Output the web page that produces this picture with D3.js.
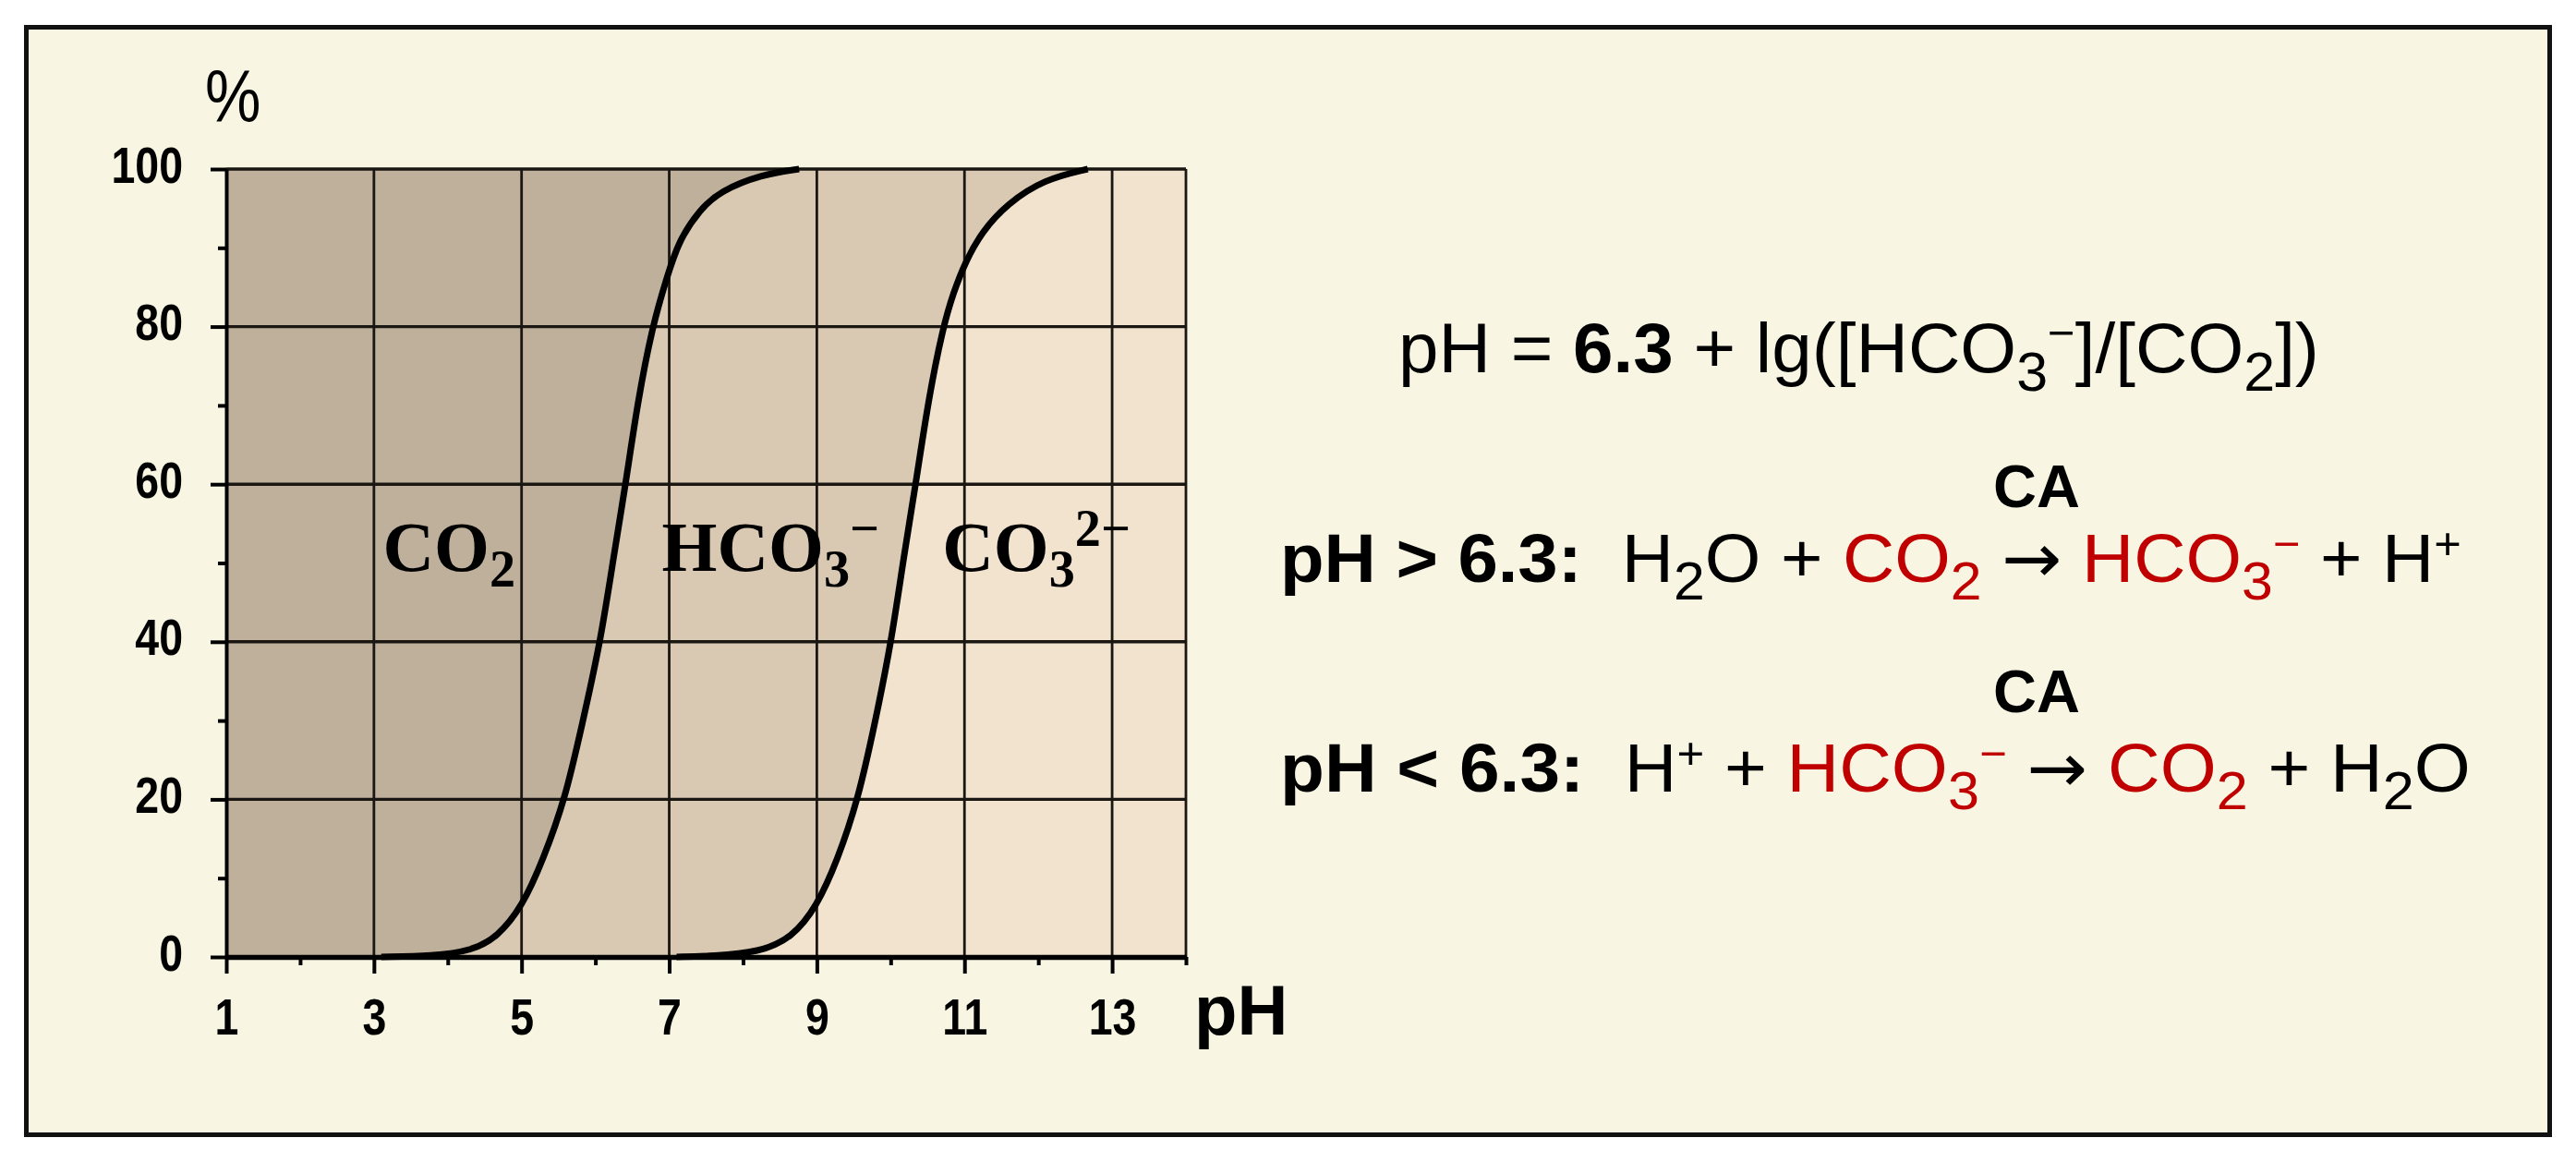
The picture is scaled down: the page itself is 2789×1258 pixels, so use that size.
<!DOCTYPE html>
<html>
<head>
<meta charset="utf-8">
<script src="https://cdn.jsdelivr.net/npm/d3@7"></script>
<style>
  body { margin: 0; background: #fff; }
  svg text { font-family: "Liberation Sans", Arial, sans-serif; white-space: pre; }
</style>
</head>
<body>
<script>
//page + plot box
const W = 2789, H = 1258;
const plot = { left: 245, right: 1284, top: 183, bottom: 1036 };

//boundary curves (pH, %)
const boundary1Ph = [3.1, 3.8, 4.33, 4.67, 5.01, 5.29, 5.59, 5.82, 6.07, 6.25, 6.41, 6.57, 6.77, 6.97, 7.13, 7.41, 7.69, 8.25, 8.76];
const boundary1Pct = [0, 0.1, 0.8, 2.5, 6.4, 12.3, 20, 29.5, 40, 51, 60, 70.3, 80, 86.3, 90.9, 94.8, 97.2, 99.3, 100];
const boundary2Ph = [7.1, 7.6, 8.22, 8.66, 9.0, 9.28, 9.56, 9.79, 10.01, 10.18, 10.34, 10.51, 10.71, 10.85, 11.01, 11.24, 11.58, 12.08, 12.67];
const boundary2Pct = [0, 0.1, 0.6, 2.4, 6.4, 12.3, 20, 29.8, 40, 51, 60, 70.7, 80, 84.3, 88.2, 92.1, 95.6, 98.7, 100];

//axes
const xDomain = [1, 14];
const yDomain = [0, 100];
const xTicks = [1, 3, 5, 7, 9, 11, 13];
const xMinor = [2, 4, 6, 8, 10, 12, 14];
const yTicks = [0, 20, 40, 60, 80, 100];
const yMinor = [10, 30, 50, 70, 90];
const xGrid = [3, 5, 7, 9, 11, 13, 14];
const yGrid = [20, 40, 60, 80, 100];

//species names inside the plot (pH where the word starts, % of baseline)
const speciesPh = [3.12, 6.9, 10.7];
const speciesPct = [49, 49, 49];
const speciesText = [
  [{ t: "CO" }, { t: "2", s: "sub" }],
  [{ t: "HCO" }, { t: "3", s: "sub" }, { t: "\u2212", s: "sup" }],
  [{ t: "CO" }, { t: "3", s: "sub" }, { t: "2\u2212", s: "sup" }],
];

//equations on the right
const formulaSegs = [
  { t: "pH = " }, { t: "6.3", b: 1 }, { t: " + lg([HCO" }, { t: "3", s: "sub" },
  { t: "\u2212", s: "sup" }, { t: "]/[CO" }, { t: "2", s: "sub" }, { t: "])" },
];
const line2Segs = [
  { t: "pH > 6.3:", b: 1 }, { t: "  H" }, { t: "2", s: "sub" }, { t: "O + " },
  { t: "CO", r: 1 }, { t: "2", s: "sub", r: 1 }, { t: " " }, { t: "\u2192", f: 1 }, { t: " " },
  { t: "HCO", r: 1 }, { t: "3", s: "sub", r: 1 }, { t: "\u2212", s: "sup", r: 1 },
  { t: " + H" }, { t: "+", s: "sup" },
];
const line3Segs = [
  { t: "pH < 6.3:", b: 1 }, { t: "  H" }, { t: "+", s: "sup" }, { t: " + " },
  { t: "HCO", r: 1 }, { t: "3", s: "sub", r: 1 }, { t: "\u2212", s: "sup", r: 1 },
  { t: " " }, { t: "\u2192", f: 1 }, { t: " " }, { t: "CO", r: 1 }, { t: "2", s: "sub", r: 1 },
  { t: " + H" }, { t: "2", s: "sub" }, { t: "O" },
];

const colors = {
  page: "#f8f6e3",
  dark: "#bfb09c",
  mid: "#d9c9b2",
  light: "#f1e3ce",
  red: "#c00000",
};

//set up svg
const svg = d3
  .select("body")
  .append("svg")
  .attr("width", W)
  .attr("height", H);

svg
  .append("rect")
  .attr("x", 28.5)
  .attr("y", 29.5)
  .attr("width", 2732)
  .attr("height", 1199)
  .attr("fill", colors.page)
  .attr("stroke", "#111")
  .attr("stroke-width", 5);

//scales
const x = d3.scaleLinear().domain(xDomain).range([plot.left, plot.right]);
const y = d3.scaleLinear().domain(yDomain).range([plot.bottom, plot.top]);

const b1 = boundary1Ph.map((p, i) => ({ ph: p, pct: boundary1Pct[i] }));
const b2 = boundary2Ph.map((p, i) => ({ ph: p, pct: boundary2Pct[i] }));

const chart = svg.append("g");

//background of the plot: CO3 zone
chart
  .append("rect")
  .attr("x", x(xDomain[0]))
  .attr("y", y(yDomain[1]))
  .attr("width", x(xDomain[1]) - x(xDomain[0]))
  .attr("height", y(yDomain[0]) - y(yDomain[1]))
  .attr("fill", colors.light);

//zones above each boundary
const zone = d3
  .area()
  .x((d) => x(d.ph))
  .y0(y(yDomain[1]))
  .y1((d) => y(d.pct))
  .curve(d3.curveBasis);

chart
  .append("path")
  .datum([{ ph: xDomain[0], pct: 0 }, { ph: xDomain[0], pct: 0 }].concat(b2))
  .attr("d", zone)
  .attr("fill", colors.mid);

chart
  .append("path")
  .datum([{ ph: xDomain[0], pct: 0 }, { ph: xDomain[0], pct: 0 }].concat(b1))
  .attr("d", zone)
  .attr("fill", colors.dark);

//grid
chart
  .selectAll(".hgrid")
  .data(yGrid)
  .enter()
  .append("line")
  .attr("class", "hgrid")
  .attr("x1", x(xDomain[0]))
  .attr("x2", x(xDomain[1]))
  .attr("y1", (d) => y(d))
  .attr("y2", (d) => y(d))
  .attr("stroke", "#1a1612")
  .attr("stroke-width", 3.4);

chart
  .selectAll(".vgrid")
  .data(xGrid)
  .enter()
  .append("line")
  .attr("class", "vgrid")
  .attr("x1", (d) => x(d))
  .attr("x2", (d) => x(d))
  .attr("y1", y(yDomain[0]))
  .attr("y2", y(yDomain[1]))
  .attr("stroke", "#1a1612")
  .attr("stroke-width", 2.8);

//text with sub/superscripts
function richText(sel, segs, o) {
  let shift = 0;
  segs.forEach((s) => {
    const target = s.s === "sub" ? o.sub : s.s === "sup" ? o.sup : 0;
    const ts = sel.append("tspan").text(s.t);
    if (target !== shift) ts.attr("dy", (target - shift) * o.size);
    if (s.s) ts.style("font-size", o.size * (s.s === "sub" ? o.subSize : o.supSize) + "px");
    if (s.b) ts.style("font-weight", "bold");
    if (s.r) ts.attr("fill", colors.red);
    if (s.f) ts.style("font-family", '"DejaVu Sans", sans-serif');
    shift = target;
  });
  return sel;
}

//narrow a text to a share of its natural width
function squeeze(sel, k) {
  sel.each(function () {
    const w = this.getComputedTextLength();
    d3.select(this).attr("textLength", w * k).attr("lengthAdjust", "spacingAndGlyphs");
  });
}

//species names
speciesText.forEach((segs, i) => {
  const t = chart
    .append("text")
    .attr("x", x(speciesPh[i]))
    .attr("y", y(speciesPct[i]))
    .style("font-family", '"Liberation Serif", "Times New Roman", serif')
    .style("font-weight", "bold")
    .style("font-size", "77px");
  richText(t, segs, { size: 77, sub: 0.22, sup: -0.35, subSize: 0.73, supSize: 0.73 });
});

//curves
const boundary = d3
  .line()
  .x((d) => x(d.ph))
  .y((d) => y(d.pct))
  .curve(d3.curveBasis);

[b1, b2].forEach((pts) => {
  chart
    .append("path")
    .datum(pts)
    .attr("d", boundary)
    .attr("fill", "none")
    .attr("stroke", "#000")
    .attr("stroke-width", 7);
});

//axes
const yAxis = chart
  .append("g")
  .attr("transform", `translate(${plot.left},0)`)
  .call(
    d3.axisLeft(y).tickValues(yTicks).tickSize(17).tickSizeOuter(0).tickPadding(30).tickFormat(d3.format("d"))
  );
const yAxisMinor = chart
  .append("g")
  .attr("transform", `translate(${plot.left},0)`)
  .call(d3.axisLeft(y).tickValues(yMinor).tickSize(9).tickSizeOuter(0).tickFormat(""));

const xAxis = chart
  .append("g")
  .attr("transform", `translate(0,${plot.bottom})`)
  .call(
    d3.axisBottom(x).tickValues(xTicks).tickSize(18).tickSizeOuter(0).tickPadding(26).tickFormat(d3.format("d"))
  );
const xAxisMinor = chart
  .append("g")
  .attr("transform", `translate(0,${plot.bottom})`)
  .call(d3.axisBottom(x).tickValues(xMinor).tickSize(9).tickSizeOuter(0).tickFormat(""));

[yAxis, yAxisMinor, xAxis, xAxisMinor].forEach((g) => {
  g.selectAll(".tick line").attr("stroke", "#000").attr("stroke-width", 4);
  g.selectAll("text")
    .attr("fill", "#000")
    .style("font-family", '"Liberation Sans", Arial, sans-serif')
    .style("font-weight", "bold")
    .style("font-size", "56px");
});
yAxis.select(".domain").attr("stroke", "#000").attr("stroke-width", 4);
yAxisMinor.select(".domain").remove();
xAxis.select(".domain").attr("stroke", "#000").attr("stroke-width", 5.5);
xAxisMinor.select(".domain").remove();
yAxis.selectAll("text").attr("dy", "0.25em");
//the figure uses a condensed face for tick labels
squeeze(yAxis.selectAll("text"), 0.83);
squeeze(xAxis.selectAll("text"), 0.83);

//axis titles
chart
  .append("text")
  .attr("x", 222)
  .attr("y", 132)
  .style("font-size", "80px")
  .text("%")
  .call(squeeze, 0.85);

chart
  .append("text")
  .attr("x", plot.right + 9)
  .attr("y", 1120)
  .style("font-size", "76px")
  .style("font-weight", "bold")
  .text("pH");

//equations, each fitted to the width it takes in the figure
const eqOpts = { sub: 0.26, sup: -0.34, subSize: 0.78, supSize: 0.65 };
const eqLines = [
  { segs: formulaSegs, x0: 1514, x1: 2511, base: 403, size: 76 },
  { segs: line2Segs, x0: 1386, x1: 2665, base: 630, size: 74 },
  { segs: line3Segs, x0: 1386, x1: 2675, base: 857, size: 74 },
];

eqLines.forEach((l) => {
  const g = svg.append("g");
  const t = g.append("text").attr("x", 0).attr("y", 0).style("font-size", l.size + "px");
  richText(t, l.segs, Object.assign({}, eqOpts, { size: l.size }));
  const bb = t.node().getBBox();
  const k = (l.x1 - l.x0) / bb.width;
  g.attr("transform", `translate(${l.x0 - bb.x * k},${l.base}) scale(${k},1)`);
});

//enzyme over the arrows
[549, 771].forEach((b) => {
  svg
    .append("text")
    .attr("x", 2205)
    .attr("y", b)
    .attr("text-anchor", "middle")
    .style("font-size", "65px")
    .style("font-weight", "bold")
    .text("CA");
});
</script>
</body>
</html>
